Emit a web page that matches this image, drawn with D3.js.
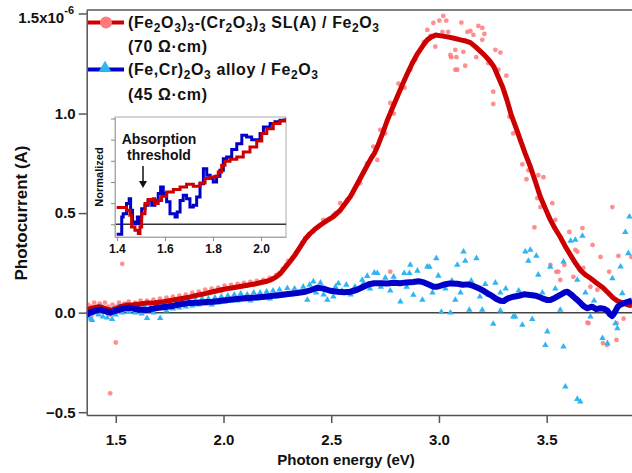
<!DOCTYPE html>
<html>
<head>
<meta charset="utf-8">
<script src="https://cdn.jsdelivr.net/npm/d3@7"></script>
<style>
  body { margin: 0; background: #fff; }
  svg text { font-family: "Liberation Sans", Arial, sans-serif; font-weight: bold; fill: #111; }
</style>
</head>
<body>
<div id="chart"></div>
<script>

// photocurrent in units of 1e-6 A, photon energy in eV

// (Fe2O3)3-(Cr2O3)3 SL(A) / Fe2O3 : smoothed line
var slLine = [[1.365,0.015],[1.38,0.02],[1.40,0.025],[1.42,0.03],[1.44,0.025],[1.46,0.018],[1.48,0.012],[1.50,0.02],[1.52,0.03],[1.55,0.038],[1.58,0.04],[1.61,0.043],[1.64,0.048],[1.68,0.05],[1.72,0.055],[1.76,0.062],[1.80,0.07],[1.84,0.078],[1.88,0.088],[1.92,0.097],[1.95,0.105],[1.99,0.115],[2.03,0.123],[2.07,0.13],[2.11,0.138],[2.15,0.145],[2.19,0.155],[2.22,0.165],[2.245,0.18],[2.265,0.198],[2.285,0.225],[2.31,0.258],[2.335,0.295],[2.356,0.33],[2.38,0.37],[2.40,0.395],[2.425,0.42],[2.45,0.44],[2.48,0.462],[2.51,0.482],[2.54,0.512],[2.565,0.548],[2.59,0.585],[2.615,0.635],[2.64,0.685],[2.66,0.725],[2.685,0.775],[2.70,0.80],[2.715,0.835],[2.735,0.89],[2.76,0.965],[2.785,1.03],[2.807,1.085],[2.83,1.145],[2.853,1.2],[2.875,1.25],[2.90,1.30],[2.925,1.34],[2.946,1.37],[2.965,1.385],[2.985,1.394],[3.01,1.39],[3.04,1.385],[3.07,1.378],[3.10,1.37],[3.125,1.364],[3.146,1.356],[3.17,1.335],[3.19,1.315],[3.21,1.295],[3.235,1.265],[3.255,1.235],[3.275,1.185],[3.295,1.135],[3.315,1.07],[3.335,0.995],[3.357,0.93],[3.38,0.86],[3.40,0.8],[3.424,0.733],[3.447,0.66],[3.47,0.583],[3.495,0.52],[3.517,0.466],[3.54,0.42],[3.563,0.38],[3.585,0.335],[3.61,0.29],[3.633,0.25],[3.656,0.214],[3.68,0.19],[3.702,0.174],[3.73,0.15],[3.763,0.124],[3.785,0.1],[3.809,0.074],[3.83,0.058],[3.855,0.049],[3.875,0.04],[3.896,0.035]];

// (Fe,Cr)2O3 alloy / Fe2O3 : smoothed line
var alloyLine = [[1.365,-0.01],[1.38,0.0],[1.40,0.008],[1.427,0.015],[1.45,0.008],[1.474,0.0],[1.50,0.01],[1.534,0.02],[1.56,0.025],[1.59,0.018],[1.62,0.015],[1.645,0.013],[1.67,0.02],[1.70,0.025],[1.738,0.03],[1.77,0.035],[1.80,0.042],[1.845,0.049],[1.88,0.05],[1.92,0.053],[1.952,0.055],[1.99,0.06],[2.03,0.065],[2.07,0.07],[2.11,0.074],[2.15,0.076],[2.19,0.08],[2.23,0.085],[2.263,0.089],[2.30,0.094],[2.342,0.099],[2.38,0.105],[2.41,0.115],[2.435,0.125],[2.46,0.122],[2.495,0.11],[2.53,0.105],[2.56,0.102],[2.588,0.105],[2.62,0.115],[2.65,0.13],[2.675,0.143],[2.70,0.148],[2.73,0.148],[2.76,0.146],[2.79,0.15],[2.82,0.148],[2.85,0.152],[2.88,0.154],[2.905,0.158],[2.93,0.152],[2.955,0.14],[2.975,0.13],[2.992,0.13],[3.02,0.14],[3.05,0.147],[3.085,0.145],[3.11,0.14],[3.135,0.142],[3.16,0.134],[3.19,0.12],[3.21,0.108],[3.225,0.097],[3.245,0.085],[3.265,0.07],[3.285,0.06],[3.30,0.058],[3.32,0.072],[3.346,0.08],[3.37,0.085],[3.395,0.092],[3.424,0.089],[3.45,0.085],[3.48,0.072],[3.50,0.064],[3.517,0.064],[3.54,0.075],[3.565,0.09],[3.585,0.103],[3.596,0.105],[3.615,0.09],[3.63,0.075],[3.642,0.064],[3.66,0.045],[3.675,0.03],[3.689,0.022],[3.71,0.03],[3.73,0.018],[3.749,0.022],[3.765,0.02],[3.781,0.01],[3.795,-0.01],[3.804,-0.017],[3.815,0.0],[3.83,0.03],[3.841,0.04],[3.865,0.05],[3.896,0.06]];

// raw points, SL sample
var slDots = [[1.37,0.04],[1.375,0.0],[1.385,0.03],[1.39,-0.01],[1.40,0.05],[1.41,0.02],[1.42,0.0],[1.425,0.045],[1.435,0.03],[1.445,0.01],[1.45,0.05],[1.46,0.0],[1.465,0.03],[1.475,-0.01],[1.485,0.04],[1.49,0.01],[1.50,-0.15],[1.474,-0.405],[1.53,0.245],[1.505,0.03],[1.515,0.05],[1.525,0.02],[1.54,0.045],[1.55,0.03],[1.56,0.055],[1.575,0.035],[1.59,0.05],[1.60,0.03],[1.615,0.06],[1.63,0.04],[1.645,0.06],[1.66,0.045],[1.675,0.065],[1.69,0.045],[1.705,0.07],[1.72,0.05],[1.735,0.075],[1.75,0.06],[1.765,0.08],[1.78,0.06],[1.795,0.085],[1.81,0.07],[1.825,0.09],[1.84,0.075],[1.855,0.1],[1.87,0.085],[1.885,0.105],[1.90,0.09],[1.915,0.115],[1.93,0.1],[1.945,0.12],[1.96,0.105],[1.975,0.125],[1.99,0.11],[2.005,0.135],[2.02,0.12],[2.035,0.14],[2.05,0.125],[2.065,0.145],[2.08,0.13],[2.095,0.15],[2.11,0.135],[2.125,0.155],[2.14,0.14],[2.155,0.16],[2.17,0.15],[2.185,0.165],[2.20,0.155],[2.215,0.175],[2.23,0.17],[2.245,0.19],[2.26,0.2],[2.275,0.22],[2.29,0.24],[2.30,0.26],[2.32,0.275],[2.335,0.3],[2.35,0.32],[2.365,0.35],[2.38,0.375],[2.395,0.39],[2.417,0.407],[2.44,0.43],[2.463,0.466],[2.49,0.47],[2.51,0.49],[2.52,0.5],[2.542,0.55],[2.573,0.566],[2.60,0.6],[2.634,0.65],[2.666,0.75],[2.695,0.834],[2.714,0.767],[2.727,0.918],[2.75,0.9],[2.774,1.053],[2.774,0.206],[2.79,1.0],[2.806,1.085],[2.812,1.15],[2.84,1.13],[2.867,1.22],[2.876,1.254],[2.89,1.27],[2.913,1.32],[2.93,1.36],[2.946,1.42],[2.96,1.39],[2.974,1.455],[2.983,1.336],[3.002,1.467],[3.016,1.41],[3.02,1.49],[3.034,1.467],[3.043,1.41],[3.053,1.294],[3.057,1.283],[3.076,1.32],[3.076,1.22],[3.081,1.283],[3.085,1.22],[3.104,1.457],[3.113,1.31],[3.122,1.24],[3.132,1.41],[3.146,1.415],[3.16,1.395],[3.173,1.283],[3.183,1.44],[3.201,1.43],[3.201,1.37],[3.211,1.40],[3.229,1.253],[3.252,1.11],[3.252,1.048],[3.262,1.32],[3.276,1.22],[3.285,1.306],[3.313,1.19],[3.327,0.984],[3.345,0.90],[3.387,0.745],[3.406,0.67],[3.415,0.715],[3.443,0.428],[3.457,0.575],[3.461,0.69],[3.471,0.53],[3.485,0.68],[3.517,0.24],[3.526,0.55],[3.54,0.466],[3.545,0.205],[3.554,0.206],[3.563,0.164],[3.582,0.24],[3.587,0.33],[3.605,0.405],[3.624,0.18],[3.633,0.315],[3.642,0.306],[3.666,0.425],[3.67,0.225],[3.689,-0.05],[3.694,-0.053],[3.703,0.13],[3.713,0.34],[3.735,0.115],[3.75,0.28],[3.761,-0.153],[3.78,-0.163],[3.79,0.206],[3.805,0.53],[3.824,-0.137],[3.824,-0.053],[3.833,0.285],[3.857,-0.03],[3.893,0.28]];

// raw points, alloy sample
var alloyDots = [[1.37,-0.02],[1.375,0.01],[1.385,-0.03],[1.39,-0.037],[1.40,0.0],[1.41,0.02],[1.42,-0.01],[1.43,0.03],[1.44,-0.02],[1.45,0.015],[1.46,-0.025],[1.47,0.01],[1.483,-0.033],[1.49,0.02],[1.50,-0.01],[1.515,0.03],[1.53,0.0],[1.545,0.035],[1.56,0.005],[1.575,0.03],[1.59,0.0],[1.605,0.025],[1.62,-0.005],[1.635,0.03],[1.645,-0.028],[1.66,0.02],[1.675,0.0],[1.69,0.035],[1.706,-0.028],[1.72,0.03],[1.735,0.01],[1.75,0.045],[1.765,0.02],[1.78,0.05],[1.795,0.025],[1.81,0.055],[1.825,0.03],[1.84,0.06],[1.855,0.035],[1.87,0.065],[1.885,0.04],[1.90,0.07],[1.915,0.045],[1.93,0.07],[1.945,0.04],[1.96,0.075],[1.975,0.05],[1.99,0.08],[2.005,0.055],[2.02,0.085],[2.035,0.06],[2.05,0.09],[2.065,0.06],[2.08,0.095],[2.095,0.065],[2.11,0.09],[2.125,0.06],[2.14,0.1],[2.155,0.07],[2.17,0.1],[2.185,0.075],[2.20,0.105],[2.215,0.07],[2.23,0.11],[2.245,0.08],[2.26,0.115],[2.275,0.085],[2.296,0.123],[2.31,0.09],[2.33,0.12],[2.35,0.1],[2.37,0.13],[2.389,0.064],[2.40,0.14],[2.417,0.156],[2.43,0.1],[2.45,0.15],[2.465,0.09],[2.482,0.064],[2.51,0.08],[2.52,0.13],[2.533,0.147],[2.55,0.11],[2.57,0.14],[2.59,0.09],[2.61,0.13],[2.644,0.164],[2.649,0.147],[2.667,0.184],[2.68,0.12],[2.70,0.2],[2.714,0.198],[2.73,0.13],[2.751,0.175],[2.774,0.11],[2.79,0.18],[2.821,0.055],[2.839,0.198],[2.85,0.13],[2.863,0.198],[2.867,0.24],[2.881,0.089],[2.90,0.21],[2.923,0.064],[2.946,0.231],[2.956,0.23],[2.97,0.1],[2.988,0.273],[2.997,0.185],[3.011,0.003],[3.03,0.12],[3.053,0.0],[3.06,0.16],[3.076,0.064],[3.085,0.24],[3.10,0.1],[3.114,0.306],[3.122,0.26],[3.141,0.014],[3.15,0.16],[3.174,0.273],[3.19,0.08],[3.201,0.014],[3.215,0.143],[3.23,0.09],[3.252,-0.057],[3.262,0.15],[3.285,0.1],[3.285,0.01],[3.31,0.12],[3.345,-0.02],[3.354,-0.02],[3.37,0.11],[3.387,-0.062],[3.401,0.306],[3.415,0.26],[3.424,0.315],[3.433,-0.033],[3.452,0.285],[3.461,0.19],[3.48,0.1],[3.494,-0.163],[3.503,-0.095],[3.517,0.23],[3.54,0.12],[3.563,0.014],[3.578,0.256],[3.578,-0.171],[3.587,-0.372],[3.611,0.36],[3.633,0.365],[3.642,0.164],[3.642,-0.434],[3.656,-0.447],[3.666,0.385],[3.68,0.1],[3.703,-0.02],[3.72,0.06],[3.759,-0.128],[3.782,-0.154],[3.805,0.172],[3.819,-0.054],[3.828,-0.079],[3.843,0.231],[3.851,0.097],[3.865,0.404],[3.879,0.298],[3.884,0.482]];

// inset: normalized photocurrent near the absorption threshold
var insetSL = [[1.399,0.79],[1.44,0.66],[1.454,0.43],[1.461,-0.13],[1.475,-0.28],[1.489,-0.44],[1.496,-0.13],[1.503,0.5],[1.517,0.98],[1.53,1.17],[1.551,1.21],[1.558,0.98],[1.572,1.13],[1.586,1.32],[1.607,1.53],[1.635,1.64],[1.663,1.76],[1.69,1.89],[1.718,1.80],[1.746,1.95],[1.767,2.16],[1.788,2.24],[1.808,2.27],[1.822,2.47],[1.836,2.79],[1.85,2.98],[1.871,3.07],[1.899,3.18],[1.926,3.42],[1.954,3.65],[1.982,3.94],[2.003,4.29],[2.024,4.52],[2.051,4.76],[2.079,4.88],[2.1,5.0]];
var insetAlloy = [[1.399,-0.47],[1.415,-0.47],[1.42,0.35],[1.426,0.5],[1.44,0.98],[1.451,1.21],[1.457,0.66],[1.465,0.11],[1.475,0.03],[1.485,0.35],[1.492,0.03],[1.496,0.35],[1.503,0.74],[1.517,0.9],[1.53,1.13],[1.545,0.9],[1.558,1.13],[1.572,1.45],[1.582,1.76],[1.593,1.45],[1.607,1.06],[1.621,0.5],[1.642,0.35],[1.651,0.58],[1.663,1.13],[1.676,1.37],[1.69,1.21],[1.704,0.82],[1.718,0.9],[1.732,1.29],[1.746,1.92],[1.76,2.63],[1.774,2.32],[1.788,2.16],[1.801,2.0],[1.815,2.27],[1.829,2.55],[1.843,3.1],[1.857,3.18],[1.878,3.53],[1.899,3.81],[1.92,4.21],[1.94,4.13],[1.961,4.0],[1.982,4.0],[1.996,4.29],[2.01,4.6],[2.038,4.76],[2.058,4.84],[2.079,4.92],[2.1,5.0]];

var xTicks = [1.5, 2.0, 2.5, 3.0, 3.5];
var yTicks = [-0.5, 0.0, 0.5, 1.0];
var insetXTicks = [1.4, 1.6, 1.8, 2.0];
var insetYTicks = [0, 1, 2, 3, 4, 5];

var colRed = "#cc0000", colPink = "#ff7b7b", colBlue = "#0000c8", colSky = "#2fb4f4";
var axisCol = "#555";

var width = 632, height = 473;
var plot = {left: 86.7, right: 632, top: 10, bottom: 415};

var svg = d3.select("#chart").append("svg")
    .attr("width", width)
    .attr("height", height);

var x = d3.scaleLinear().domain([1.365, 3.896]).range([plot.left, plot.right]);
var y = d3.scaleLinear().domain([-0.514, 1.52]).range([plot.bottom, plot.top]);

svg.append("clipPath").attr("id", "clip")
    .append("rect")
    .attr("x", plot.left).attr("y", plot.top)
    .attr("width", plot.right - plot.left).attr("height", plot.bottom - plot.top);

// frame top line + zero line
svg.append("line")
    .attr("x1", plot.left).attr("x2", plot.right)
    .attr("y1", plot.top).attr("y2", plot.top)
    .attr("stroke", axisCol).attr("stroke-width", 1.5);

svg.append("line")
    .attr("x1", plot.left).attr("x2", plot.right)
    .attr("y1", y(0)).attr("y2", y(0))
    .attr("stroke", "#444").attr("stroke-width", 1.5);

var data = svg.append("g").attr("clip-path", "url(#clip)");

data.selectAll("circle.sl")
    .data(slDots)
    .enter().append("circle")
    .attr("class", "sl")
    .attr("cx", function(d) { return x(d[0]); })
    .attr("cy", function(d) { return y(d[1]); })
    .attr("r", 2.4)
    .attr("fill", colPink)
    .attr("opacity", 0.85);

var tri = d3.symbol().type(d3.symbolTriangle).size(18);

data.selectAll("path.alloy")
    .data(alloyDots)
    .enter().append("path")
    .attr("class", "alloy")
    .attr("d", tri)
    .attr("transform", function(d) { return "translate(" + x(d[0]) + "," + y(d[1]) + ")"; })
    .attr("fill", colSky);

var line = d3.line()
    .x(function(d) { return x(d[0]); })
    .y(function(d) { return y(d[1]); });

data.append("path")
    .datum(slLine)
    .attr("d", line)
    .attr("fill", "none")
    .attr("stroke", colRed)
    .attr("stroke-width", 5)
    .attr("stroke-linejoin", "round");

data.append("path")
    .datum(alloyLine)
    .attr("d", line)
    .attr("fill", "none")
    .attr("stroke", colBlue)
    .attr("stroke-width", 6)
    .attr("stroke-linejoin", "round");

// axes
var xAxis = svg.append("g")
    .attr("transform", "translate(0," + plot.bottom + ")")
    .call(d3.axisBottom(x).tickValues(xTicks).tickFormat(d3.format(".1f"))
        .tickSizeInner(8).tickSizeOuter(0).tickPadding(11));

var yAxis = svg.append("g")
    .attr("transform", "translate(" + plot.left + ",0)")
    .call(d3.axisLeft(y).tickValues(yTicks).tickFormat(d3.format(".1f"))
        .tickSizeInner(8).tickSizeOuter(0).tickPadding(3));

[xAxis, yAxis].forEach(function(a) {
    a.select(".domain").attr("stroke", axisCol).attr("stroke-width", 1.5);
    a.selectAll(".tick line").attr("stroke", axisCol).attr("stroke-width", 1.5);
    a.selectAll(".tick text")
        .style("font-family", "Liberation Sans, Arial, sans-serif")
        .style("font-weight", "bold")
        .style("font-size", "15px")
        .attr("fill", "#111");
});

// top tick with exponent
svg.append("line")
    .attr("x1", plot.left - 8).attr("x2", plot.left)
    .attr("y1", y(1.5)).attr("y2", y(1.5))
    .attr("stroke", axisCol).attr("stroke-width", 1.5);

var topLab = svg.append("text")
    .attr("x", 74).attr("y", 23)
    .attr("text-anchor", "end")
    .style("font-size", "15px");
topLab.append("tspan").text("1.5x10");
topLab.append("tspan").attr("dy", -9).style("font-size", "11px").text("-6");

svg.append("text")
    .attr("transform", "translate(27," + 213 + ") rotate(-90)")
    .attr("text-anchor", "middle")
    .style("font-size", "17px")
    .text("Photocurrent (A)");

svg.append("text")
    .attr("x", 346).attr("y", 465)
    .attr("text-anchor", "middle")
    .style("font-size", "15px")
    .text("Photon energy (eV)");

// legend; chemical formulas as [text, isSubscript]
function chem(sel, parts) {
    var low = false;
    parts.forEach(function(p) {
        var sub = !!p[1];
        var ts = sel.append("tspan").text(p[0]);
        if (sub && !low) ts.attr("dy", 4);
        if (!sub && low) ts.attr("dy", -4);
        if (sub) ts.style("font-size", "12px");
        low = sub;
    });
}

var legFont = "16px", legSpace = "0.6px";

svg.append("line")
    .attr("x1", 88).attr("x2", 124).attr("y1", 22.5).attr("y2", 22.5)
    .attr("stroke", colRed).attr("stroke-width", 4);
svg.append("circle")
    .attr("cx", 106).attr("cy", 22.5).attr("r", 6)
    .attr("fill", colPink);

var t1 = svg.append("text").attr("x", 128).attr("y", 28)
    .style("font-size", legFont).style("letter-spacing", legSpace);
chem(t1, [["(Fe"],["2",1],["O"],["3",1],[")"],["3",1],["-(Cr"],["2",1],["O"],["3",1],[")"],["3",1],[" SL(A) / Fe"],["2",1],["O"],["3",1]]);
svg.append("text").attr("x", 128).attr("y", 52)
    .style("font-size", legFont).style("letter-spacing", legSpace)
    .text("(70 \u03A9\u00B7cm)");

svg.append("line")
    .attr("x1", 88).attr("x2", 124).attr("y1", 69.5).attr("y2", 69.5)
    .attr("stroke", colBlue).attr("stroke-width", 4);
svg.append("path")
    .attr("d", d3.symbol().type(d3.symbolTriangle).size(70))
    .attr("transform", "translate(105,68)")
    .attr("fill", colSky);

var t2 = svg.append("text").attr("x", 128).attr("y", 75)
    .style("font-size", legFont).style("letter-spacing", legSpace);
chem(t2, [["(Fe,Cr)"],["2",1],["O"],["3",1],[" alloy / Fe"],["2",1],["O"],["3",1]]);
svg.append("text").attr("x", 128).attr("y", 100)
    .style("font-size", legFont).style("letter-spacing", legSpace)
    .text("(45 \u03A9\u00B7cm)");

// inset
var ix = d3.scaleLinear().domain([1.392, 2.104]).range([115, 286]);
var iy = d3.scaleLinear().domain([-0.6, 5.07]).range([237, 117]);

var inset = svg.append("g");

inset.append("rect")
    .attr("x", 115).attr("y", 117)
    .attr("width", 171).attr("height", 120)
    .attr("fill", "#fff")
    .attr("stroke", "#aaa").attr("stroke-width", 1);

inset.append("clipPath").attr("id", "iclip")
    .append("rect").attr("x", 115).attr("y", 117).attr("width", 171).attr("height", 120);

inset.append("line")
    .attr("x1", 115).attr("x2", 286)
    .attr("y1", iy(0)).attr("y2", iy(0))
    .attr("stroke", "#333").attr("stroke-width", 1.5);

var iline = d3.line()
    .x(function(d) { return ix(d[0]); })
    .y(function(d) { return iy(d[1]); })
    .curve(d3.curveStepAfter);

var ig = inset.append("g").attr("clip-path", "url(#iclip)");

ig.append("path").datum(insetAlloy).attr("d", iline)
    .attr("fill", "none").attr("stroke", colBlue).attr("stroke-width", 3);
ig.append("path").datum(insetSL).attr("d", iline)
    .attr("fill", "none").attr("stroke", colRed).attr("stroke-width", 3);

var ixAxis = inset.append("g")
    .attr("transform", "translate(0,237)")
    .call(d3.axisBottom(ix).tickValues(insetXTicks).tickFormat(d3.format(".1f"))
        .tickSizeInner(4).tickSizeOuter(0).tickPadding(3));
var iyAxis = inset.append("g")
    .attr("transform", "translate(115,0)")
    .call(d3.axisLeft(iy).tickValues(insetYTicks).tickFormat("")
        .tickSizeInner(4).tickSizeOuter(0));

[ixAxis, iyAxis].forEach(function(a) {
    a.select(".domain").attr("stroke", "#aaa");
    a.selectAll(".tick line").attr("stroke", "#888");
    a.selectAll(".tick text")
        .style("font-family", "Liberation Sans, Arial, sans-serif")
        .style("font-weight", "bold")
        .style("font-size", "12px")
        .attr("fill", "#111");
});

inset.append("text")
    .attr("transform", "translate(103,177) rotate(-90)")
    .attr("text-anchor", "middle")
    .style("font-size", "11px")
    .text("Normalized");

inset.append("text").attr("x", 159).attr("y", 144)
    .attr("text-anchor", "middle").style("font-size", "14px").text("Absorption");
inset.append("text").attr("x", 159).attr("y", 160)
    .attr("text-anchor", "middle").style("font-size", "14px").text("threshold");

inset.append("line")
    .attr("x1", 143).attr("x2", 143).attr("y1", 166).attr("y2", 184)
    .attr("stroke", "#111").attr("stroke-width", 1.5);
inset.append("path")
    .attr("d", "M139,181 L143,188 L147,181 Z")
    .attr("fill", "#111");

</script>
</body>
</html>
